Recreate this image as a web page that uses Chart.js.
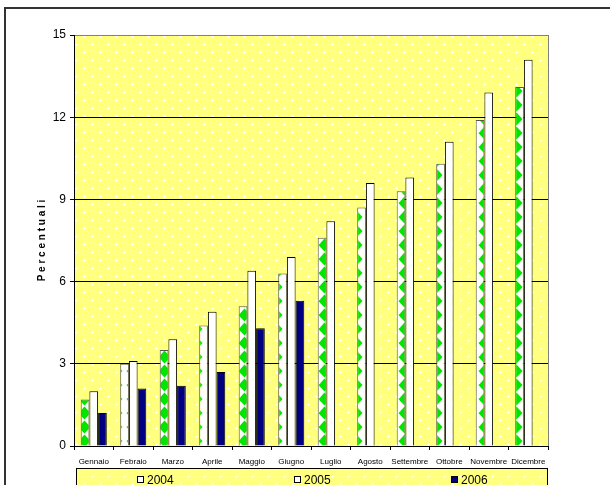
<!DOCTYPE html>
<html>
<head>
<meta charset="utf-8">
<script src="https://cdn.jsdelivr.net/npm/chart.js@4.4.1/dist/chart.umd.min.js"></script>
<style>
html, body { margin: 0; padding: 0; background: #fff; overflow: hidden; }
</style>
</head>
<body>
<canvas id="chart" width="610" height="485"></canvas>
<script>
const months = ['Gennaio', 'Febraio', 'Marzo', 'Aprile', 'Maggio', 'Giugno', 'Luglio', 'Agosto', 'Settembre', 'Ottobre', 'Novembre', 'Dicembre'];
const v2004 = [1.7, 3.0, 3.5, 4.4, 5.1, 6.3, 7.6, 8.7, 9.3, 10.3, 11.9, 13.1];
const v2005 = [2.0, 3.1, 3.9, 4.9, 6.4, 6.9, 8.2, 9.6, 9.8, 11.1, 12.9, 14.1];
const v2006 = [1.2, 2.1, 2.2, 2.7, 4.3, 5.3, null, null, null, null, null, null];
const yTicks = [0, 3, 6, 9, 12, 15];

// pale yellow with white crosses, like the excel fill
function makeYellow() {
    const t = document.createElement('canvas');
    t.width = 16; t.height = 16;
    const c = t.getContext('2d');
    c.fillStyle = '#ffff80';
    c.fillRect(0, 0, 16, 16);
    c.fillStyle = '#ffffff';
    [[4, 4], [12, 12]].forEach(([x, y]) => {
        c.fillRect(x - 1, y, 3, 1);
        c.fillRect(x, y - 1, 1, 3);
    });
    return c.createPattern(t, 'repeat');
}

// white with green diamonds
function makeDiamonds() {
    const t = document.createElement('canvas');
    t.width = 16; t.height = 14;
    const c = t.getContext('2d');
    c.fillStyle = '#ffffff';
    c.fillRect(0, 0, 16, 14);
    c.fillStyle = '#00e600';
    const cx = 4.5, cy = 7;
    [-16, 0, 16].forEach(dx => {
        c.beginPath();
        c.moveTo(cx + dx, cy - 6.5);
        c.lineTo(cx + dx + 6, cy);
        c.lineTo(cx + dx, cy + 6.5);
        c.lineTo(cx + dx - 6, cy);
        c.closePath();
        c.fill();
    });
    return c.createPattern(t, 'repeat');
}

const ctx = document.getElementById('chart').getContext('2d');
const yellow = makeYellow();
const diamonds = makeDiamonds();

const frame = {
    id: 'frame',
    beforeDraw(chart) {
        const c = chart.ctx, a = chart.chartArea;
        c.save();
        c.fillStyle = '#ffffff';
        c.fillRect(0, 0, chart.width, chart.height);
        c.strokeStyle = '#333';
        c.lineWidth = 2;
        c.strokeRect(5, 8, chart.width + 10, chart.height + 10);
        c.fillStyle = yellow;
        c.fillRect(a.left, a.top, a.right - a.left, a.bottom - a.top);
        c.restore();
    },
    afterDraw(chart) {
        const c = chart.ctx, a = chart.chartArea;
        c.save();
        // right edge of plot
        c.strokeStyle = '#808080';
        c.lineWidth = 1;
        c.beginPath();
        c.moveTo(Math.round(a.right) + 0.5, a.top);
        c.lineTo(Math.round(a.right) + 0.5, a.bottom);
        c.stroke();

        // legend box
        const bx = 76.5, by = 468.5, bw = 471, bh = 30;
        c.fillStyle = yellow;
        c.fillRect(bx, by, bw, bh);
        c.strokeStyle = '#000';
        c.strokeRect(bx, by, bw, bh);
        c.font = '12px "Liberation Sans", Arial, sans-serif';
        c.textBaseline = 'alphabetic';
        const n = chart.data.datasets.length;
        chart.data.datasets.forEach((ds, i) => {
            const center = bx + bw * (i + 0.5) / n;
            const tw = c.measureText(ds.label).width;
            const sx = Math.round(center - (tw + 10) / 2);
            c.fillStyle = ds.backgroundColor;
            c.fillRect(sx, 477, 6, 6);
            c.strokeStyle = '#000';
            c.strokeRect(sx + 0.5, 476.5, 6, 6);
            c.fillStyle = '#000';
            c.fillText(ds.label, sx + 10, 484);
        });
        c.restore();
    }
};

new Chart(ctx, {
    type: 'bar',
    data: {
        labels: months,
        datasets: [
            {
                label: '2004',
                data: v2004,
                backgroundColor: diamonds,
                borderColor: '#555',
                borderWidth: 1,
                borderSkipped: 'bottom'
            },
            {
                label: '2005',
                data: v2005,
                backgroundColor: '#ffffff',
                borderColor: '#000',
                borderWidth: 1,
                borderSkipped: 'bottom'
            },
            {
                label: '2006',
                data: v2006,
                backgroundColor: '#000080',
                borderColor: '#000',
                borderWidth: 1,
                borderSkipped: 'bottom'
            }
        ]
    },
    options: {
        responsive: false,
        animation: false,
        categoryPercentage: 0.66,
        barPercentage: 1,
        layout: {
            padding: { left: 0, top: 35, right: 62, bottom: 0 }
        },
        plugins: {
            legend: { display: false },
            tooltip: { enabled: false }
        },
        scales: {
            x: {
                afterFit(scale) { scale.height = 39; },
                grid: {
                    drawOnChartArea: false,
                    drawTicks: true,
                    tickLength: 4,
                    color: '#000',
                    offset: true
                },
                border: { color: '#000' },
                ticks: {
                    autoSkip: false,
                    maxRotation: 0,
                    padding: 7,
                    color: '#000',
                    font: { family: '"Liberation Sans", Arial, sans-serif', size: 8 }
                }
            },
            y: {
                min: yTicks[0],
                max: yTicks[yTicks.length - 1],
                afterFit(scale) { scale.width = 74; },
                afterBuildTicks(scale) { scale.ticks = yTicks.map(v => ({ value: v })); },
                grid: {
                    color: c => c.tick && c.tick.value === 15 ? '#808080' : '#000',
                    tickColor: '#000',
                    tickLength: 4
                },
                border: { color: '#000' },
                ticks: {
                    padding: 4,
                    color: '#000',
                    font: { family: '"Liberation Sans", Arial, sans-serif', size: 12 }
                },
                title: {
                    display: true,
                    text: 'P e r c e n t u a l i',
                    color: '#000',
                    padding: { top: 36, bottom: 0 },
                    font: { family: '"Liberation Sans", Arial, sans-serif', size: 10, weight: 'bold' }
                }
            }
        }
    },
    plugins: [frame]
});
</script>
</body>
</html>
